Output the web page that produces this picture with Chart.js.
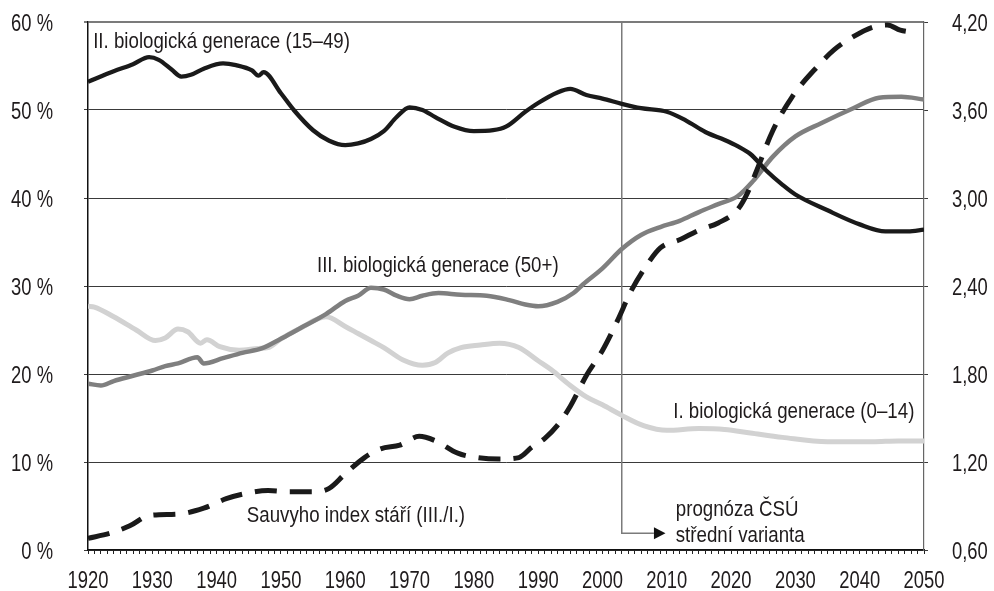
<!DOCTYPE html>
<html><head><meta charset="utf-8">
<script src="https://cdn.jsdelivr.net/npm/chart.js@4"></script>
<style>html,body{margin:0;padding:0;background:#fff}#wrap{width:994px;height:591px}</style>
</head><body><div id="wrap"><canvas id="c" width="994" height="591"></canvas></div>
<script>
// ---- data ----
const yearsII = [1920,1924,1927,1929.5,1931,1933,1934.5,1936,1938,1941,1943,1945.5,1946.5,1947.3,1950,1952,1955,1957.5,1960,1962,1964,1966,1968,1970,1972,1974,1977,1980,1983,1985,1988,1990,1993,1995,1997.5,2000,2003,2006,2010,2013,2016,2019,2021,2023,2025.5,2028,2030,2035,2040,2044,2047.5,2050];
const shareII = [53.2,54.4,55.2,56.0,55.7,54.6,53.8,54.0,54.7,55.3,55.1,54.5,53.9,54.3,51.9,50.0,47.7,46.5,46.0,46.2,46.7,47.6,49.2,50.3,50.0,49.2,48.1,47.6,47.7,48.1,49.8,50.8,52.0,52.4,51.7,51.3,50.7,50.2,49.8,48.8,47.5,46.6,45.9,45.0,43.1,41.5,40.4,38.6,37.0,36.2,36.2,36.4];

const yearsIII = [1920,1922,1924,1927,1930,1932,1934,1937,1938,1941,1944,1947,1950,1952.5,1957,1960,1962,1964,1966,1968,1970,1972,1974.5,1978,1982,1985.5,1988,1990,1993,1995.5,1997,2000,2003,2006,2009,2012,2015,2018,2021,2023.5,2026.5,2030,2034,2039,2043,2046.5,2050];
const shareIII = [18.9,18.7,19.2,19.8,20.4,20.9,21.2,21.9,21.2,21.8,22.4,22.9,24.0,25.0,26.8,28.3,28.9,29.8,29.6,28.9,28.5,28.9,29.2,29.0,28.9,28.4,27.9,27.7,28.2,29.2,30.2,32.0,34.2,35.8,36.7,37.4,38.4,39.3,40.2,42.0,44.7,47.0,48.5,50.2,51.4,51.5,51.2];

const yearsI = [1920,1921,1924,1927.5,1930.5,1932,1934,1935.5,1937.5,1938.5,1940.5,1943.5,1946.5,1948,1950,1953,1957,1960,1962,1964,1966,1969,1972,1974,1976,1978,1981,1984,1987,1990,1992,1995,1997.5,2000,2003,2006.5,2010,2015,2019,2023,2028,2035,2042,2046,2050];
const shareI = [27.7,27.6,26.5,25.0,23.8,24.1,25.1,24.8,23.5,23.9,23.1,22.7,22.9,23.0,24.0,25.2,26.5,25.4,24.6,23.8,23.0,21.6,21.0,21.3,22.4,23.0,23.3,23.5,23.0,21.5,20.5,18.7,17.4,16.5,15.3,14.1,13.6,13.8,13.7,13.3,12.8,12.3,12.3,12.4,12.4];

const yearsSauvy = [1920,1923.5,1926.5,1929.5,1934,1938,1941.5,1944.5,1948,1951,1955,1957.5,1960,1963,1965.5,1968.5,1971.5,1974,1977.5,1980.5,1984,1987,1989,1991,1993,1995,1997.5,2000,2002.3,2004.5,2007,2009,2012,2015,2018,2021,2022.5,2024,2026.5,2029.5,2033.5,2036,2039,2042,2044.3,2046.3,2048.2];
const indexSauvy = [0.68,0.715,0.765,0.835,0.845,0.885,0.95,0.985,1.005,0.998,0.998,1.02,1.12,1.23,1.29,1.315,1.375,1.345,1.26,1.23,1.22,1.23,1.30,1.36,1.45,1.58,1.79,1.96,2.16,2.37,2.55,2.66,2.715,2.78,2.83,2.92,3.03,3.19,3.46,3.69,3.90,4.01,4.10,4.165,4.18,4.145,4.13];

const xTickYears = [1920,1930,1940,1950,1960,1970,1980,1990,2000,2010,2020,2030,2040,2050];
const leftTicks = [0,10,20,30,40,50,60];
const rightTicks = [0.6,1.2,1.8,2.4,3.0,3.6,4.2];
const forecastYear = 2003;

// ---- text helpers (condensed look via horizontal scaling) ----
const FONT = "'Liberation Sans','Arimo',Arial,sans-serif";
const TXT = '#1f1b1c';
function drawText(ctx, text, x, y, align, size, sx) {
  ctx.save();
  ctx.translate(x, y);
  ctx.scale(sx, 1);
  ctx.font = size + 'px ' + FONT;
  ctx.fillStyle = TXT;
  ctx.textAlign = align;
  ctx.textBaseline = 'alphabetic';
  ctx.fillText(text, 0, 0);
  ctx.restore();
}
const pts = (xs, ys) => xs.map((x, i) => ({x, y: ys[i]}));

const notes = [
  {text: 'II. biologická generace (15–49)', year: 1920.8, val: 57.0},
  {text: 'III. biologická generace (50+)', year: 1955.6, val: 31.6},
  {text: 'I. biologická generace (0–14)', year: 2011.0, val: 15.0},
  {text: 'Sauvyho index stáří (III./I.)', year: 1944.7, val: 3.2},
  {text: 'prognóza ČSÚ', year: 2011.4, val: 3.9},
  {text: 'střední varianta', year: 2011.4, val: 0.95}
];

const decor = {
  id: 'decor',
  beforeDatasetsDraw(chart) {
    const {ctx, chartArea, scales} = chart;
    const x0 = scales.x.getPixelForValue(forecastYear);
    const yb = scales.y.getPixelForValue(1.9);
    const x1 = scales.x.getPixelForValue(forecastYear + 5);
    const xt = scales.x.getPixelForValue(forecastYear + 6.8);
    ctx.save();
    ctx.strokeStyle = '#7b7b7b';
    ctx.lineWidth = 1.5;
    ctx.beginPath();
    ctx.moveTo(x0, chartArea.top);
    ctx.lineTo(x0, yb);
    ctx.lineTo(x1, yb);
    ctx.stroke();
    ctx.fillStyle = '#111';
    ctx.beginPath();
    ctx.moveTo(x1, yb - 6);
    ctx.lineTo(xt, yb);
    ctx.lineTo(x1, yb + 6);
    ctx.closePath();
    ctx.fill();
    ctx.restore();
  },
  afterDraw(chart) {
    const {ctx, scales} = chart;
    notes.forEach(n => {
      drawText(ctx, n.text, scales.x.getPixelForValue(n.year), scales.y.getPixelForValue(n.val), 'left', 22, 0.85);
    });
    const xa = scales.x, ya = scales.y, yb = scales.y2;
    xTickYears.forEach(v => drawText(ctx, String(v), xa.getPixelForValue(v), xa.bottom - 3, 'center', 23, 0.8));
    leftTicks.forEach(v => drawText(ctx, v + ' %', ya.left + 53, ya.getPixelForValue(v) + 8.5, 'right', 23, 0.8));
    rightTicks.forEach(v => drawText(ctx, v.toFixed(2).replace('.', ','), yb.left + 28, yb.getPixelForValue(v) + 8.5, 'left', 23, 0.8));
  }
};

new Chart(document.getElementById('c'), {
  type: 'line',
  data: {
    datasets: [
      {label: 'Sauvyho index stáří (III./I.)', data: pts(yearsSauvy, indexSauvy), yAxisID: 'y2',
       borderColor: '#1a1a1a', borderWidth: 5, borderDash: [22, 13], borderCapStyle: 'butt'},
      {label: 'II. biologická generace (15–49)', data: pts(yearsII, shareII), yAxisID: 'y',
       borderColor: '#1a1a1a', borderWidth: 4.3},
      {label: 'III. biologická generace (50+)', data: pts(yearsIII, shareIII), yAxisID: 'y',
       borderColor: '#7f7f7f', borderWidth: 4.5},
      {label: 'I. biologická generace (0–14)', data: pts(yearsI, shareI), yAxisID: 'y',
       borderColor: '#d2d2d2', borderWidth: 5}
    ]
  },
  options: {
    responsive: false,
    animation: false,
    devicePixelRatio: 1,
    layout: {padding: {top: 22, left: 0, right: 0, bottom: 0}},
    elements: {
      point: {radius: 0},
      line: {cubicInterpolationMode: 'monotone', fill: false, borderJoinStyle: 'round'}
    },
    plugins: {legend: {display: false}, tooltip: {enabled: false}},
    scales: {
      x: {
        type: 'linear', position: 'bottom', min: 1920, max: 2050,
        afterFit: s => { s.height = 41; },
        afterBuildTicks: s => { const t = []; for (let v = 1920; v <= 2050; v++) t.push({value: v}); s.ticks = t; },
        ticks: {display: false, autoSkip: false},
        grid: {drawOnChartArea: false, drawTicks: true, tickLength: 4, color: '#222', lineWidth: 1},
        border: {display: true, color: '#111', width: 1.5}
      },
      y: {
        position: 'left', min: 0, max: 60,
        afterFit: s => { s.width = 88; },
        afterBuildTicks: s => { s.ticks = leftTicks.map(v => ({value: v})); },
        ticks: {display: false},
        grid: {drawTicks: true, tickLength: 4,
               color: c => (c.tick && c.tick.value === 60 ? '#7b7b7b' : '#3a3a3a'),
               lineWidth: c => (c.tick && c.tick.value === 60 ? 2 : 1)},
        border: {display: true, color: '#111', width: 1.5}
      },
      y2: {
        position: 'right', min: 0.6, max: 4.2,
        afterFit: s => { s.width = 70; },
        afterBuildTicks: s => { s.ticks = rightTicks.map(v => ({value: v})); },
        ticks: {display: false},
        grid: {drawOnChartArea: false, drawTicks: true, tickLength: 4, color: '#3a3a3a', lineWidth: 1},
        border: {display: true, color: '#666', width: 1.2}
      }
    }
  },
  plugins: [decor]
});
</script></body></html>
